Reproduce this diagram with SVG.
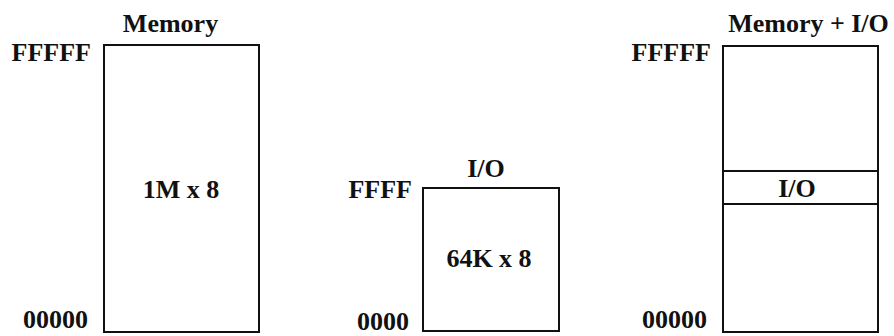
<svg xmlns="http://www.w3.org/2000/svg" width="894" height="336" viewBox="0 0 894 336">
<style>
text{font-family:'Liberation Serif','Times New Roman','DejaVu Serif',serif;font-size:26px;font-weight:bold;fill:#111}
.box{fill:none;stroke:#111;stroke-width:2}
.e{text-anchor:end}
.m{text-anchor:middle}
</style>
<rect width="894" height="336" fill="#fff"/>
<g id="memory">
<text class="m" x="170.5" y="32" font-family="Liberation Serif">Memory</text>
<text class="e" x="91" y="61" font-family="Liberation Serif">FFFFF</text>
<text class="e" x="88" y="328" font-family="Liberation Serif">00000</text>
<rect class="box" x="104" y="45" width="155" height="287"/>
<text class="m" x="181" y="198" font-family="Liberation Serif">1M x 8</text>
</g>
<g id="io">
<text class="m" x="486" y="177" font-family="Liberation Serif">I/O</text>
<text class="e" x="412" y="198" font-family="Liberation Serif">FFFF</text>
<text class="e" x="409" y="330" font-family="Liberation Serif">0000</text>
<rect class="box" x="423" y="188" width="136" height="143"/>
<text class="m" x="489" y="267" font-family="Liberation Serif">64K x 8</text>
</g>
<g id="memory-io">
<text class="m" x="808.5" y="32" font-family="Liberation Serif">Memory + I/O</text>
<text class="e" x="711" y="61" font-family="Liberation Serif">FFFFF</text>
<text class="e" x="707" y="328" font-family="Liberation Serif">00000</text>
<rect class="box" x="723" y="46" width="155" height="286"/>
<line class="box" x1="723" y1="171" x2="878" y2="171"/>
<line class="box" x1="723" y1="204" x2="878" y2="204"/>
<text class="m" x="797" y="197" font-family="Liberation Serif">I/O</text>
</g>
<g id="connectors"></g>
</svg>
